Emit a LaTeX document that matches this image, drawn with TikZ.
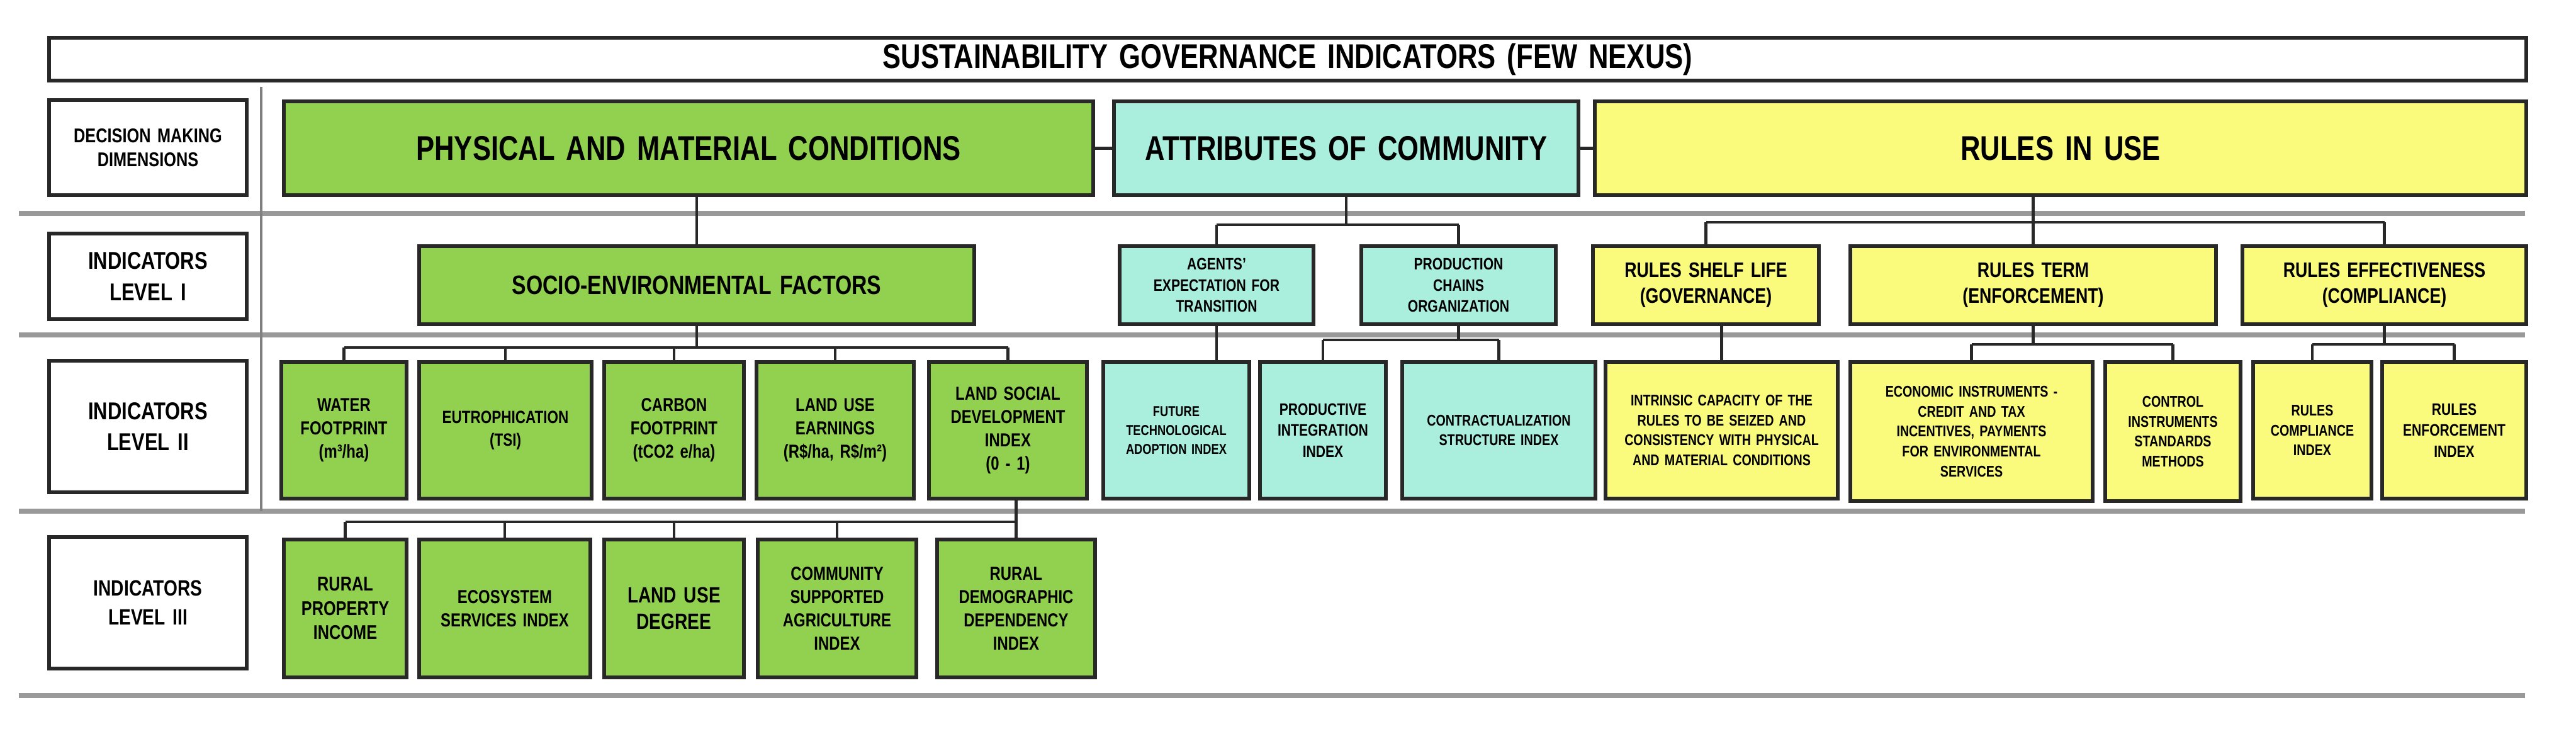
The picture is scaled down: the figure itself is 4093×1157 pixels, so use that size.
\documentclass[tikz,border=0pt]{standalone}
\usepackage{fontspec}
\setmainfont{Liberation Sans}[FakeStretch=0.8]
\definecolor{gfill}{RGB}{146,208,80}
\definecolor{cfill}{RGB}{170,238,222}
\definecolor{yfill}{RGB}{250,250,125}
\definecolor{edge}{RGB}{40,40,40}
\tikzset{
 base/.style={draw=edge,line width=1.6pt,inner sep=0pt,align=center,font=\bfseries},
 gbox/.style={base,fill=gfill},
 cbox/.style={base,fill=cfill},
 ybox/.style={base,fill=yfill},
 wbox/.style={base,fill=white},
 conn/.style={line width=1.3pt,draw=edge},
 rowline/.style={line width=2.2pt,draw=gray!80}
}
\newcommand\bx[8]{%
 \pgfmathsetmacro\bw{(#4-#2)*0.01}\pgfmathsetmacro\bh{(#5-#3)*0.01}\pgfmathsetmacro\tw{(#4-#2)*0.01-0.12}%
 \node[#6,minimum width=\bw cm,minimum height=\bh cm,text width=\tw cm,font=\bfseries#7] (#1) at ({(#2+#4)/2},{(#3+#5)/2}) {#8};}
\begin{document}
\begin{tikzpicture}[x=0.01cm,y=-0.01cm]
\useasboundingbox (0,0) rectangle (4093,1157);
% row lines
\foreach \yy in {339,532,812,1105} \draw[rowline] (30,\yy) -- (4012,\yy);
\draw[line width=1pt,draw=gray] (415,138) -- (415,812);
% title
\bx{title}{78}{60}{4014}{128}{wbox}{\fontsize{15.5}{17}\selectfont}{SUSTAINABILITY GOVERNANCE INDICATORS (FEW NEXUS)}
% labels
\bx{l0}{78}{159}{392}{310}{wbox}{\fontsize{9}{11}\selectfont}{DECISION MAKING\\DIMENSIONS}
\bx{l1}{78}{371}{392}{507}{wbox}{\fontsize{11}{14}\selectfont}{INDICATORS\\LEVEL I}
\bx{l2}{78}{573}{392}{782}{wbox}{\fontsize{11}{14}\selectfont}{INDICATORS\\LEVEL II}
\bx{l3}{78}{853}{392}{1062}{wbox}{\fontsize{10}{13}\selectfont}{INDICATORS\\LEVEL III}
% dimensions
\bx{phys}{451}{161}{1737}{310}{gbox}{\fontsize{15.5}{17}\selectfont}{PHYSICAL AND MATERIAL CONDITIONS}
\bx{attr}{1770}{161}{2508}{310}{cbox}{\fontsize{15.5}{17}\selectfont}{ATTRIBUTES OF COMMUNITY}
\bx{rules}{2534}{161}{4014}{310}{ybox}{\fontsize{15.5}{17}\selectfont}{RULES IN USE}
% level I
\bx{socio}{666}{391}{1548}{515}{gbox}{\fontsize{12}{14}\selectfont}{SOCIO-ENVIRONMENTAL FACTORS}
\bx{agents}{1779}{391}{2087}{515}{cbox}{\fontsize{7.5}{9.5}\selectfont}{AGENTS'\\EXPECTATION FOR\\TRANSITION}
\bx{prod}{2163}{391}{2472}{515}{cbox}{\fontsize{7.5}{9.5}\selectfont}{PRODUCTION\\CHAINS\\ORGANIZATION}
\bx{shelf}{2531}{391}{2890}{515}{ybox}{\fontsize{9.5}{11.5}\selectfont}{RULES SHELF LIFE\\(GOVERNANCE)}
\bx{term}{2940}{391}{3521}{515}{ybox}{\fontsize{9.5}{11.5}\selectfont}{RULES TERM\\(ENFORCEMENT)}
\bx{eff}{3563}{391}{4014}{515}{ybox}{\fontsize{9.5}{11.5}\selectfont}{RULES EFFECTIVENESS\\(COMPLIANCE)}
% level II
\bx{water}{447}{575}{646}{792}{gbox}{\fontsize{8.5}{10.5}\selectfont}{WATER\\FOOTPRINT\\(m³/ha)}
\bx{eut}{666}{575}{940}{792}{gbox}{\fontsize{8}{10}\selectfont}{EUTROPHICATION\\(TSI)}
\bx{carb}{960}{575}{1182}{792}{gbox}{\fontsize{8.5}{10.5}\selectfont}{CARBON\\FOOTPRINT\\(tCO2 e/ha)}
\bx{lue}{1202}{575}{1452}{792}{gbox}{\fontsize{8.5}{10.5}\selectfont}{LAND USE\\EARNINGS\\(R\$/ha, R\$/m²)}
\bx{lsd}{1476}{575}{1727}{792}{gbox}{\fontsize{8.5}{10.5}\selectfont}{LAND SOCIAL\\DEVELOPMENT\\INDEX\\(0 - 1)}
\bx{fut}{1753}{575}{1985}{792}{cbox}{\fontsize{6.5}{8.5}\selectfont}{FUTURE\\TECHNOLOGICAL\\ADOPTION INDEX}
\bx{pint}{2002}{575}{2202}{792}{cbox}{\fontsize{7.5}{9.5}\selectfont}{PRODUCTIVE\\INTEGRATION\\INDEX}
\bx{contr}{2228}{575}{2535}{792}{cbox}{\fontsize{7}{9}\selectfont}{CONTRACTUALIZATION\\STRUCTURE INDEX}
\bx{intr}{2551}{575}{2920}{792}{ybox}{\fontsize{7}{9}\selectfont}{INTRINSIC CAPACITY OF THE RULES TO BE SEIZED AND CONSISTENCY WITH PHYSICAL AND MATERIAL CONDITIONS}
\bx{econ}{2940}{575}{3325}{796}{ybox}{\fontsize{7}{9}\selectfont}{ECONOMIC INSTRUMENTS -\\CREDIT AND TAX\\INCENTIVES, PAYMENTS\\FOR ENVIRONMENTAL\\SERVICES}
\bx{ctrl}{3345}{575}{3560}{796}{ybox}{\fontsize{7}{9}\selectfont}{CONTROL\\INSTRUMENTS\\STANDARDS\\METHODS}
\bx{comp}{3580}{575}{3768}{792}{ybox}{\fontsize{7}{9}\selectfont}{RULES\\COMPLIANCE\\INDEX}
\bx{enf}{3785}{575}{4014}{792}{ybox}{\fontsize{7.5}{9.5}\selectfont}{RULES\\ENFORCEMENT\\INDEX}
% level III
\bx{rpi}{451}{857}{646}{1076}{gbox}{\fontsize{9}{11}\selectfont}{RURAL\\PROPERTY\\INCOME}
\bx{esi}{666}{857}{938}{1076}{gbox}{\fontsize{8.5}{10.5}\selectfont}{ECOSYSTEM\\SERVICES INDEX}
\bx{lud}{960}{857}{1182}{1076}{gbox}{\fontsize{10}{12}\selectfont}{LAND USE\\DEGREE}
\bx{csa}{1204}{857}{1456}{1076}{gbox}{\fontsize{8.5}{10.5}\selectfont}{COMMUNITY\\SUPPORTED\\AGRICULTURE\\INDEX}
\bx{rdd}{1489}{857}{1740}{1076}{gbox}{\fontsize{8.5}{10.5}\selectfont}{RURAL\\DEMOGRAPHIC\\DEPENDENCY\\INDEX}
% connectors between dimensions
\draw[conn] (phys.east) -- (attr.west);
\draw[conn] (attr.east) -- (rules.west);
% bracket levels
\coordinate (ya) at (0,357);
\coordinate (yb) at (0,353);
\coordinate (yc) at (0,552);
\coordinate (yd) at (0,540);
\coordinate (ye) at (0,547);
\coordinate (yf) at (0,829);
% dimension -> level I
\draw[conn] (socio.north) -- (socio.north |- phys.south);
\draw[conn] (attr.south) -- (attr.south |- ya);
\draw[conn] (agents.north |- ya) -- (prod.north |- ya);
\foreach \n in {agents,prod} \draw[conn] (\n.north) -- (\n.north |- ya);
\draw[conn] (term.north) -- (term.north |- rules.south);
\draw[conn] (shelf.north |- yb) -- (eff.north |- yb);
\foreach \n in {shelf,eff} \draw[conn] (\n.north) -- (\n.north |- yb);
% level I -> level II
\draw[conn] (socio.south) -- (socio.south |- yc);
\draw[conn] (water.north |- yc) -- (lsd.north |- yc);
\foreach \n in {water,eut,carb,lue,lsd} \draw[conn] (\n.north) -- (\n.north |- yc);
\draw[conn] (agents.south) -- (agents.south |- fut.north);
\draw[conn] (prod.south) -- (prod.south |- yd);
\draw[conn] (pint.north |- yd) -- (contr.north |- yd);
\foreach \n in {pint,contr} \draw[conn] (\n.north) -- (\n.north |- yd);
\draw[conn] (intr.north) -- (intr.north |- shelf.south);
\draw[conn] (term.south) -- (term.south |- ye);
\draw[conn] (econ.north |- ye) -- (ctrl.north |- ye);
\foreach \n in {econ,ctrl} \draw[conn] (\n.north) -- (\n.north |- ye);
\draw[conn] (eff.south) -- (eff.south |- ye);
\draw[conn] (comp.north |- ye) -- (enf.north |- ye);
\foreach \n in {comp,enf} \draw[conn] (\n.north) -- (\n.north |- ye);
% level II -> level III
\draw[conn] (rdd.north) -- (rdd.north |- lsd.south);
\draw[conn] (rpi.north |- yf) -- (rdd.north |- yf);
\foreach \n in {rpi,esi,lud,csa} \draw[conn] (\n.north) -- (\n.north |- yf);
\end{tikzpicture}
\end{document}
